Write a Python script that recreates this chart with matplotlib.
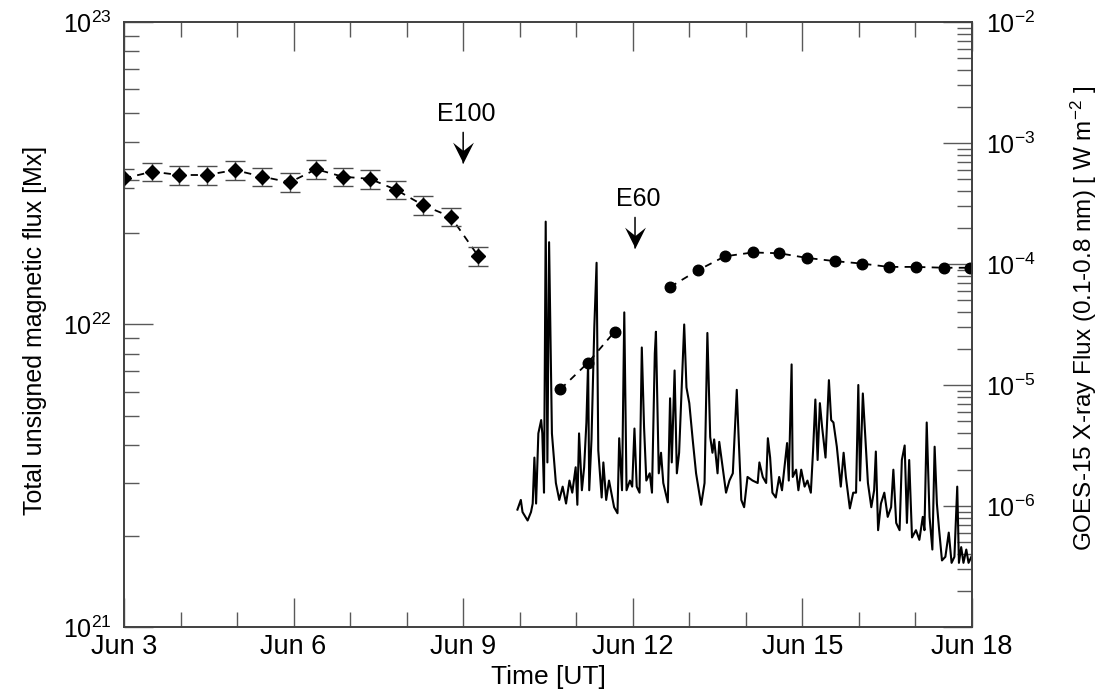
import numpy as np
import matplotlib
matplotlib.use('Agg')
import matplotlib.pyplot as plt
from matplotlib.path import Path
from matplotlib.ticker import FixedLocator, NullFormatter, LogLocator

plt.rcParams['font.family'] = ['Liberation Sans', 'DejaVu Sans']
plt.rcParams['mathtext.fontset'] = 'custom'
plt.rcParams['mathtext.rm'] = 'Liberation Sans'
plt.rcParams['mathtext.it'] = 'Liberation Sans:italic'
plt.rcParams['mathtext.bf'] = 'Liberation Sans:bold'

# x axis = day of June 2012 (UT)
tick_days = [3, 6, 9, 12, 15, 18]
tick_labels = ['Jun 3', 'Jun 6', 'Jun 9', 'Jun 12', 'Jun 15', 'Jun 18']
minor_days = [3, 4, 5, 6, 7, 8, 9, 10, 11, 12, 13, 14, 15, 16, 17, 18]

# total unsigned flux, first region (diamonds, with errors) [Mx]
ar1_day = [3.00, 3.50, 3.98, 4.46, 4.96, 5.45, 5.93, 6.40, 6.87, 7.35, 7.81, 8.29, 8.78, 9.27]
ar1_flux = [3.04e22, 3.20e22, 3.12e22, 3.12e22, 3.24e22, 3.08e22, 2.95e22,
            3.26e22, 3.08e22, 3.03e22, 2.79e22, 2.48e22, 2.27e22, 1.68e22]
ar1_err = [0.22e22, 0.23e22, 0.22e22, 0.22e22, 0.23e22, 0.22e22, 0.21e22,
           0.23e22, 0.22e22, 0.22e22, 0.20e22, 0.18e22, 0.16e22, 0.12e22]

# total unsigned flux, second region (dots) [Mx]; dashed line breaks after 3rd point
ar2_day = [10.72, 11.20, 11.68, 12.66, 13.15, 13.63, 14.12, 14.59, 15.08,
           15.57, 16.05, 16.53, 17.01, 17.51, 17.97]
ar2_flux = [6.11e21, 7.45e21, 9.47e21, 1.33e22, 1.51e22, 1.68e22, 1.73e22, 1.72e22,
            1.66e22, 1.62e22, 1.59e22, 1.55e22, 1.55e22, 1.54e22, 1.54e22]
ar2_gap = 3

# GOES-15 1-8 A flux, log10 [W m^-2]
goes_day = [9.96, 10.02, 10.05, 10.14, 10.20, 10.23, 10.26, 10.29, 10.33, 10.38,
            10.40, 10.43, 10.46, 10.49, 10.52, 10.57, 10.64, 10.70, 10.76, 10.82,
            10.88, 10.93, 10.99, 11.02, 11.05, 11.10, 11.14, 11.18, 11.21, 11.23,
            11.27, 11.32, 11.36, 11.39, 11.45, 11.48, 11.53, 11.58, 11.67, 11.73,
            11.76, 11.81, 11.85, 11.89, 11.95, 11.99, 12.03, 12.07, 12.12, 12.16,
            12.20, 12.24, 12.30, 12.34, 12.39, 12.41, 12.46, 12.50, 12.54, 12.62,
            12.66, 12.69, 12.74, 12.78, 12.82, 12.87, 12.91, 12.95, 13.00, 13.06,
            13.12, 13.21, 13.27, 13.32, 13.37, 13.41, 13.44, 13.50, 13.53, 13.59,
            13.65, 13.71, 13.77, 13.84, 13.87, 13.92, 13.97, 14.03, 14.12, 14.21,
            14.24, 14.30, 14.36, 14.39, 14.43, 14.47, 14.53, 14.59, 14.64, 14.68,
            14.73, 14.76, 14.81, 14.83, 14.89, 14.93, 14.98, 15.04, 15.09, 15.15,
            15.19, 15.23, 15.27, 15.31, 15.35, 15.41, 15.47, 15.51, 15.55, 15.61,
            15.65, 15.68, 15.73, 15.77, 15.84, 15.90, 15.95, 15.99, 16.02, 16.07,
            16.12, 16.16, 16.22, 16.27, 16.30, 16.34, 16.39, 16.45, 16.51, 16.57,
            16.61, 16.66, 16.72, 16.76, 16.81, 16.85, 16.89, 16.94, 17.01, 17.07,
            17.13, 17.16, 17.20, 17.25, 17.30, 17.34, 17.38, 17.42, 17.47, 17.53,
            17.59, 17.64, 17.69, 17.74, 17.77, 17.81, 17.85, 17.90, 17.94, 17.99]
goes_log10_flux = [-6.03, -5.95, -6.05, -6.12, -6.05, -5.98, -5.60, -5.98, -5.40, -5.29,
                   -5.40, -5.89, -3.65, -5.64, -3.82, -5.40, -5.81, -5.95, -5.84, -5.98,
                   -5.79, -5.89, -5.68, -5.99, -5.40, -5.87, -5.68, -5.31, -4.82, -5.87,
                   -5.45, -4.52, -3.99, -5.54, -5.93, -5.64, -5.95, -5.79, -6.01, -6.06,
                   -5.44, -5.87, -4.40, -5.87, -5.79, -5.84, -5.36, -5.84, -5.89, -4.69,
                   -5.35, -5.79, -5.73, -5.89, -4.74, -4.56, -5.73, -5.56, -5.81, -5.97,
                   -5.11, -5.64, -4.88, -5.73, -5.56, -4.98, -4.50, -5.02, -5.15, -5.45,
                   -5.73, -5.99, -5.81, -4.57, -5.43, -5.56, -5.45, -5.73, -5.47, -5.68,
                   -5.89, -5.79, -5.73, -5.04, -5.40, -5.95, -6.01, -5.76, -5.79, -5.81,
                   -5.64, -5.76, -5.81, -5.44, -5.60, -5.89, -5.93, -5.76, -5.87, -5.70,
                   -5.48, -5.79, -4.83, -5.76, -5.70, -5.87, -5.70, -5.84, -5.79, -5.89,
                   -5.54, -5.12, -5.62, -5.15, -5.35, -5.60, -4.96, -5.29, -5.31, -5.51,
                   -5.70, -5.84, -5.56, -5.76, -6.02, -5.89, -5.89, -5.00, -5.79, -5.07,
                   -5.48, -5.81, -6.01, -5.87, -5.55, -6.20, -5.98, -5.89, -6.09, -6.01,
                   -5.70, -6.14, -6.20, -5.62, -5.50, -6.14, -5.62, -6.26, -6.20, -6.28,
                   -6.09, -6.20, -5.31, -6.09, -6.36, -5.51, -5.98, -6.20, -6.45, -6.42,
                   -6.22, -6.47, -6.42, -5.84, -6.47, -6.34, -6.47, -6.36, -6.47, -6.42]

# eruption markers: label, day, flux at arrow tip [Mx]
event_labels = ['E100', 'E60']
event_days = [9.0, 12.04]
event_tips = [3.42e22, 1.79e22]

left_ticks = [1e21, 1e22, 1e23]
left_labels = [r'$\mathregular{10^{21}}$', r'$\mathregular{10^{22}}$', r'$\mathregular{10^{23}}$']
right_ticks = [1e-7, 1e-6, 1e-5, 1e-4, 1e-3, 1e-2]
right_labels = ['', r'$\mathregular{10^{-6}}$', r'$\mathregular{10^{-5}}$',
                r'$\mathregular{10^{-4}}$', r'$\mathregular{10^{-3}}$', r'$\mathregular{10^{-2}}$']

fig = plt.figure(figsize=(11.08, 6.89), dpi=100)
ax = fig.add_axes([0.1119, 0.0900, 0.7653, 0.8781])
ax2 = ax.twinx()
ax.set_zorder(ax2.get_zorder() + 1)
ax.patch.set_visible(False)

# X-ray curve on the right axis
ax2.plot(goes_day, 10 ** np.array(goes_log10_flux), color='k', lw=1.5)
ax2.set_yscale('log')
ax2.set_ylim(1e-7, 1e-2)

# magnetic flux on the left axis
dash = (0, (4, 3.5))
ax.plot(ar1_day, ar1_flux, ls=dash, color='k', lw=1.3)
ax.errorbar(ar1_day, ar1_flux, yerr=ar1_err, fmt='none', ecolor='0.3',
            elinewidth=1.0, capsize=7, capthick=1.0)
ax.plot(ar1_day, ar1_flux, 'D', color='k', ms=7.3)

ax.plot(ar2_day[:ar2_gap], ar2_flux[:ar2_gap], ls=dash, color='k', lw=1.3)
ax.plot(ar2_day[ar2_gap:], ar2_flux[ar2_gap:], ls=dash, color='k', lw=1.3)
ax.plot(ar2_day, ar2_flux, 'o', color='k', ms=7.6)

ax.set_yscale('log')
ax.set_ylim(1e21, 1e23)
ax.set_xlim(3, 18)

# arrows with a notched head
chevron = Path([(0, 0), (-0.5, 1), (0, 0.6), (0.5, 1), (0, 0)],
               [Path.MOVETO, Path.LINETO, Path.LINETO, Path.LINETO, Path.CLOSEPOLY])
for lab, d, tip in zip(event_labels, event_days, event_tips):
    ax.annotate('', xy=(d, tip), xytext=(0, 22), textcoords='offset points',
                arrowprops=dict(arrowstyle='-', lw=1.1, color='k', shrinkA=0, shrinkB=0))
    ax.plot([d], [tip], marker=chevron, ms=30, color='k', mew=0)
    ax.annotate(lab, xy=(d, tip), xytext=(2, 35), textcoords='offset points',
                ha='center', va='center', fontsize=18)

# ticks
ax.set_xticks(tick_days)
ax.set_xticklabels(tick_labels)
ax.xaxis.set_minor_locator(FixedLocator(minor_days))
ax.set_yticks(left_ticks)
ax.set_yticklabels(left_labels)
ax.yaxis.set_minor_locator(LogLocator(base=10, subs=np.arange(2, 10), numticks=20))
ax.yaxis.set_minor_formatter(NullFormatter())
ax2.set_yticks(right_ticks)
ax2.set_yticklabels(right_labels)
ax2.yaxis.set_minor_locator(LogLocator(base=10, subs=np.arange(2, 10), numticks=20))
ax2.yaxis.set_minor_formatter(NullFormatter())

for a in (ax, ax2):
    a.tick_params(which='major', direction='in', length=21, width=1.0, color='0.35', labelsize=18)
    a.tick_params(which='minor', direction='in', length=11, width=1.0, color='0.35')
    for s in a.spines.values():
        s.set_color('0.25')
        s.set_linewidth(1.2)
ax.tick_params(axis='x', which='both', top=True, bottom=True, pad=5, labelsize=19.5)
ax.tick_params(axis='y', which='both', left=True, right=False, pad=9)
ax2.tick_params(axis='y', which='both', pad=10)

ax.set_xlabel('Time [UT]', fontsize=19)
ax.xaxis.set_label_coords(0.5, -0.062)
ax.set_ylabel('Total unsigned magnetic flux [Mx]', fontsize=18)
ax.yaxis.set_label_coords(-0.091, 0.49)
ax2.set_ylabel(r'GOES-15 X-ray Flux (0.1-0.8 nm) [ W m$^{-2}$ ]', fontsize=17.5)
ax2.yaxis.set_label_coords(1.114, 0.51)

fig.savefig('out.png', dpi=100)
